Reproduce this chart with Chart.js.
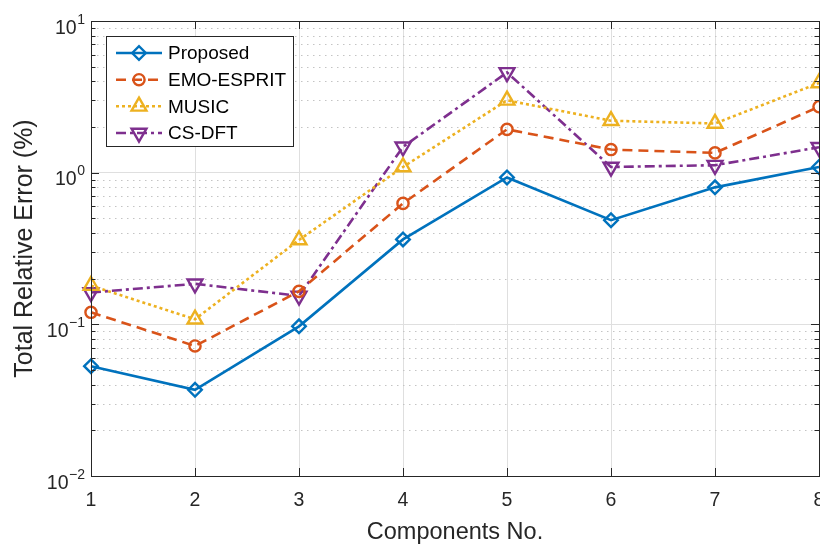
<!DOCTYPE html>
<html>
<head>
<meta charset="utf-8">
<script src="https://cdn.jsdelivr.net/npm/chart.js@4.4.1/dist/chart.umd.min.js"></script>
<style>
  html, body { margin: 0; padding: 0; background: #ffffff; overflow: hidden; }
  #wrap { width: 820px; height: 544px; position: relative; }
  canvas { display: block; }
</style>
</head>
<body>
<div id="wrap"><canvas id="chart" width="820" height="544"></canvas></div>
<script>
// Number of components on the x axis
const components = ['1', '2', '3', '4', '5', '6', '7', '8'];

// Total relative error (%) per method
const proposed  = [0.053, 0.037, 0.097, 0.363, 0.93, 0.486, 0.80, 1.09];
const emoEsprit = [0.120, 0.072, 0.165, 0.627, 1.93, 1.42, 1.35, 2.72];
const music     = [0.180, 0.108, 0.360, 1.09, 3.00, 2.20, 2.11, 3.90];
const csDft     = [0.162, 0.185, 0.154, 1.48, 4.58, 1.09, 1.12, 1.47];

// Decade ticks of the log axis and their exponents
const yDecades   = [0.01, 0.1, 1, 10];
const yExponents = ['\u22122', '\u22121', '0', '1'];

const AXIS_COLOR = '#262626';
const FONT = '"Liberation Sans", Arial, Helvetica, sans-serif';

// Dotted minor grid, inward tick marks, box outline, tick labels and legend
const matlabAxes = {
  id: 'matlabAxes',
  beforeDatasetsDraw(chart) {
    const { ctx, chartArea: a, scales: { y } } = chart;
    ctx.save();
    ctx.strokeStyle = '#c4c4c4';
    ctx.lineWidth = 1;
    ctx.setLineDash([1.5, 4.5]);
    for (let k = 0; k < yDecades.length - 1; k++) {
      for (let m = 2; m <= 9; m++) {
        const py = Math.round(y.getPixelForValue(m * yDecades[k])) + 0.5;
        ctx.beginPath();
        ctx.moveTo(a.left, py);
        ctx.lineTo(a.right, py);
        ctx.stroke();
      }
    }
    ctx.restore();
  },
  afterDatasetsDraw(chart) {
    const { ctx, chartArea: a, scales: { x, y } } = chart;
    ctx.save();
    ctx.strokeStyle = AXIS_COLOR;
    ctx.lineWidth = 1;
    ctx.setLineDash([]);

    // box outline
    ctx.strokeRect(Math.round(a.left) + 0.5, Math.round(a.top) + 0.5,
                   Math.round(a.right - a.left), Math.round(a.bottom - a.top));

    // y ticks (major and minor), pointing inward on both sides
    ctx.beginPath();
    for (let k = 0; k < yDecades.length; k++) {
      const py = Math.round(y.getPixelForValue(yDecades[k])) + 0.5;
      ctx.moveTo(a.left, py); ctx.lineTo(a.left + 8, py);
      ctx.moveTo(a.right, py); ctx.lineTo(a.right - 8, py);
      if (k < yDecades.length - 1) {
        for (let m = 2; m <= 9; m++) {
          const pm = Math.round(y.getPixelForValue(m * yDecades[k])) + 0.5;
          ctx.moveTo(a.left, pm); ctx.lineTo(a.left + 4.5, pm);
          ctx.moveTo(a.right, pm); ctx.lineTo(a.right - 4.5, pm);
        }
      }
    }
    // x ticks on bottom and top
    components.forEach((c, i) => {
      const px = Math.round(x.getPixelForValue(i)) + 0.5;
      ctx.moveTo(px, a.bottom); ctx.lineTo(px, a.bottom - 8);
      ctx.moveTo(px, a.top); ctx.lineTo(px, a.top + 8);
    });
    ctx.stroke();

    // y tick labels: "10" with a raised exponent
    ctx.fillStyle = AXIS_COLOR;
    ctx.textBaseline = 'alphabetic';
    yDecades.forEach((v, i) => {
      const py = y.getPixelForValue(v);
      const rightEdge = a.left - 6;
      ctx.font = '14px ' + FONT;
      ctx.textAlign = 'right';
      const ew = ctx.measureText(yExponents[i]).width;
      ctx.fillText(yExponents[i], rightEdge, py + 2.8);
      ctx.font = '19.5px ' + FONT;
      ctx.fillText('10', rightEdge - ew - 0.5, py + 12.6);
    });

    // legend
    const box = { left: 106.5, top: 36.5, right: 293.5, bottom: 146.5 };
    ctx.fillStyle = '#ffffff';
    ctx.fillRect(box.left, box.top, box.right - box.left, box.bottom - box.top);
    ctx.strokeStyle = AXIS_COLOR;
    ctx.lineWidth = 1;
    ctx.strokeRect(box.left, box.top, box.right - box.left, box.bottom - box.top);
    const rows = [53, 79.7, 106.3, 133];
    chart.data.datasets.forEach((ds, i) => {
      const ry = rows[i];
      ctx.save();
      ctx.strokeStyle = ds.borderColor;
      ctx.lineWidth = ds.borderWidth;
      ctx.lineCap = 'butt';
      ctx.setLineDash(ds.borderDash || []);
      ctx.beginPath();
      ctx.moveTo(116, ry);
      ctx.lineTo(162, ry);
      ctx.stroke();
      ctx.setLineDash([]);
      ctx.fillStyle = 'rgba(0,0,0,0)';
      ctx.lineWidth = ds.pointBorderWidth;
      Chart.helpers.drawPoint(ctx, {
        pointStyle: ds.pointStyle,
        rotation: ds.pointRotation || 0,
        radius: ds.pointRadius,
        borderWidth: ds.pointBorderWidth
      }, 139, ry);
      ctx.restore();
      ctx.fillStyle = '#000000';
      ctx.font = '19px ' + FONT;
      ctx.textAlign = 'left';
      ctx.textBaseline = 'middle';
      ctx.fillText(ds.label, 168, ry + 1);
    });
    ctx.restore();
  }
};

function series(label, data, color, dash, pointStyle, radius, rotation) {
  return {
    label, data,
    borderColor: color,
    backgroundColor: color,
    borderWidth: 2.6,
    borderDash: dash,
    borderCapStyle: 'butt',
    pointStyle,
    pointRadius: radius,
    pointHoverRadius: radius,
    pointRotation: rotation,
    pointBorderColor: color,
    pointBackgroundColor: 'rgba(0,0,0,0)',
    pointBorderWidth: 2.4,
    tension: 0,
    clip: false
  };
}

new Chart(document.getElementById('chart'), {
  type: 'line',
  data: {
    labels: components,
    datasets: [
      series('Proposed',   proposed,  '#0072BD', [],            'rectRot',  6.8, 0),
      series('EMO-ESPRIT', emoEsprit, '#D95319', [10, 6],       'circle',   5.6, 0),
      series('MUSIC',      music,     '#EDB120', [3, 3],        'triangle', 8.6, 0),
      series('CS-DFT',     csDft,     '#7E2F8E', [10, 4, 3, 4], 'triangle', 8.6, 180)
    ]
  },
  options: {
    responsive: false,
    animation: false,
    devicePixelRatio: 1,
    layout: { autoPadding: false, padding: { left: 0, right: 1, top: 21, bottom: 0 } },
    plugins: { legend: { display: false }, tooltip: { enabled: false } },
    scales: {
      x: {
        type: 'category',
        offset: false,
        grid: { color: '#dfdfdf', lineWidth: 1, drawTicks: false, offset: false },
        border: { display: true, color: AXIS_COLOR, width: 1 },
        ticks: { color: AXIS_COLOR, font: { family: FONT, size: 19.5 }, padding: 13, maxRotation: 0, autoSkip: false },
        title: {
          display: true, text: 'Components No.', color: AXIS_COLOR,
          font: { family: FONT, size: 23.5, lineHeight: 1 }, padding: { top: 0, bottom: 0 }
        },
        afterFit(scale) { scale.height = 68; scale.paddingLeft = 0; scale.paddingRight = 0; }
      },
      y: {
        type: 'logarithmic',
        min: yDecades[0],
        max: yDecades[yDecades.length - 1],
        afterBuildTicks(scale) { scale.ticks = yDecades.map(v => ({ value: v })); },
        grid: { color: '#dfdfdf', lineWidth: 1, drawTicks: false },
        border: { display: true, color: AXIS_COLOR, width: 1 },
        ticks: { display: false },
        title: {
          display: true, text: 'Total Relative Error (%)', color: AXIS_COLOR,
          font: { family: FONT, size: 25, lineHeight: 1 }, padding: { top: 13, bottom: 0 }
        },
        afterFit(scale) { scale.width = 91; scale.paddingTop = 0; scale.paddingBottom = 0; }
      }
    }
  },
  plugins: [matlabAxes]
});
</script>
</body>
</html>
